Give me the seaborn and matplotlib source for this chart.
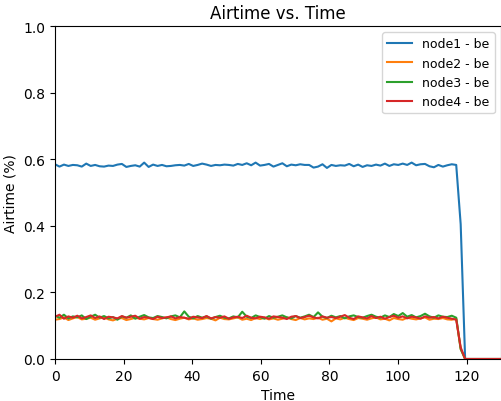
import pandas as pd
import matplotlib.pyplot as plt
import numpy as np
import seaborn as sns

# time axis (s)
time = [round(i * 1.3, 1) for i in range(101)]

node1 = [0.585, 0.578, 0.584, 0.580, 0.583, 0.582, 0.578, 0.587, 0.580, 0.583,
         0.579, 0.578, 0.581, 0.580, 0.584, 0.586, 0.577, 0.580, 0.582, 0.578,
         0.590, 0.577, 0.584, 0.580, 0.583, 0.579, 0.580, 0.582, 0.583, 0.581,
         0.586, 0.580, 0.583, 0.587, 0.584, 0.580, 0.583, 0.582, 0.584, 0.583,
         0.581, 0.586, 0.583, 0.588, 0.582, 0.590, 0.581, 0.583, 0.586, 0.578,
         0.583, 0.588, 0.579, 0.584, 0.582, 0.585, 0.583, 0.583, 0.575, 0.578,
         0.585, 0.574, 0.583, 0.580, 0.582, 0.581, 0.586, 0.579, 0.584, 0.577,
         0.582, 0.580, 0.584, 0.581, 0.587, 0.580, 0.585, 0.583, 0.587, 0.583,
         0.590, 0.582, 0.585, 0.586, 0.579, 0.576, 0.583, 0.578, 0.582, 0.585,
         0.583, 0.405, 0.0, 0.0, 0.0, 0.0, 0.0, 0.0, 0.0, 0.0,
         0.0]

node2 = [0.118, 0.120, 0.125, 0.117, 0.122, 0.126, 0.119, 0.121, 0.124, 0.118,
         0.122, 0.125, 0.119, 0.116, 0.121, 0.123, 0.117, 0.120, 0.124, 0.121,
         0.119, 0.123, 0.120, 0.118, 0.122, 0.125, 0.120, 0.117, 0.121, 0.124,
         0.119, 0.122, 0.118, 0.120, 0.123, 0.121, 0.116, 0.124, 0.120, 0.119,
         0.122, 0.125, 0.118, 0.121, 0.117, 0.123, 0.120, 0.124, 0.119, 0.122,
         0.118, 0.121, 0.125, 0.120, 0.117, 0.123, 0.119, 0.122, 0.120, 0.124,
         0.118, 0.121, 0.113, 0.122, 0.119, 0.124, 0.120, 0.117, 0.123, 0.121,
         0.118, 0.122, 0.125, 0.119, 0.121, 0.116, 0.123, 0.120, 0.118, 0.124,
         0.121, 0.119, 0.122, 0.125, 0.118, 0.121, 0.120, 0.123, 0.119, 0.118,
         0.122, 0.030, 0.0, 0.0, 0.0, 0.0, 0.0, 0.0, 0.0, 0.0,
         0.0]

node3 = [0.130, 0.124, 0.133, 0.122, 0.128, 0.125, 0.131, 0.120, 0.127, 0.133,
         0.124, 0.129, 0.122, 0.126, 0.118, 0.128, 0.124, 0.131, 0.121, 0.127,
         0.132, 0.125, 0.123, 0.129, 0.126, 0.122, 0.128, 0.131, 0.125, 0.143,
         0.127, 0.122, 0.129, 0.124, 0.128, 0.121, 0.126, 0.130, 0.124, 0.122,
         0.128, 0.125, 0.142, 0.127, 0.123, 0.131, 0.126, 0.121, 0.129, 0.124,
         0.127, 0.131, 0.125, 0.122, 0.129, 0.124, 0.128, 0.133, 0.126, 0.140,
         0.127, 0.123, 0.130, 0.125, 0.129, 0.122, 0.128, 0.131, 0.126, 0.124,
         0.129, 0.133, 0.127, 0.124, 0.131, 0.126, 0.135, 0.129, 0.138, 0.127,
         0.132, 0.125, 0.129, 0.136, 0.128, 0.124, 0.131, 0.127, 0.126, 0.130,
         0.124, 0.030, 0.0, 0.0, 0.0, 0.0, 0.0, 0.0, 0.0, 0.0,
         0.0]

node4 = [0.127, 0.133, 0.121, 0.128, 0.124, 0.130, 0.122, 0.126, 0.131, 0.123,
         0.128, 0.120, 0.127, 0.125, 0.122, 0.129, 0.124, 0.127, 0.130, 0.121,
         0.126, 0.124, 0.120, 0.127, 0.123, 0.125, 0.128, 0.122, 0.126, 0.124,
         0.121, 0.127, 0.125, 0.123, 0.129, 0.122, 0.126, 0.124, 0.128, 0.121,
         0.125, 0.127, 0.123, 0.130, 0.124, 0.122, 0.127, 0.125, 0.121, 0.128,
         0.126, 0.124, 0.120, 0.127, 0.129, 0.123, 0.126, 0.130, 0.125, 0.122,
         0.128, 0.124, 0.126, 0.123, 0.127, 0.132, 0.124, 0.120, 0.128, 0.125,
         0.122, 0.129, 0.123, 0.127, 0.121, 0.126, 0.130, 0.124, 0.128, 0.122,
         0.127, 0.125, 0.121, 0.128, 0.124, 0.126, 0.122, 0.127, 0.124, 0.121,
         0.118, 0.035, 0.0, 0.0, 0.0, 0.0, 0.0, 0.0, 0.0, 0.0,
         0.0]

labels = ['node1 - be', 'node2 - be', 'node3 - be', 'node4 - be']

df = pd.DataFrame({'Time': time * 4,
                   'Airtime': node1 + node2 + node3 + node4,
                   'Node': [l for l in labels for _ in time]})

fig = plt.figure(figsize=(5.02, 4.02), dpi=100)
ax = fig.add_axes([0.1096, 0.1045, 0.888, 0.828])
sns.lineplot(data=df, x='Time', y='Airtime', hue='Node', palette='tab10', ax=ax, linewidth=1.5)
ax.set_xlim(0, 130)
ax.set_ylim(0, 1)
ax.set_title("Airtime vs. Time")
ax.set_xlabel("Time")
ax.set_ylabel("Airtime (%)")
ax.legend(loc='upper right', fontsize=9)
fig.savefig("out.png", dpi=100)
